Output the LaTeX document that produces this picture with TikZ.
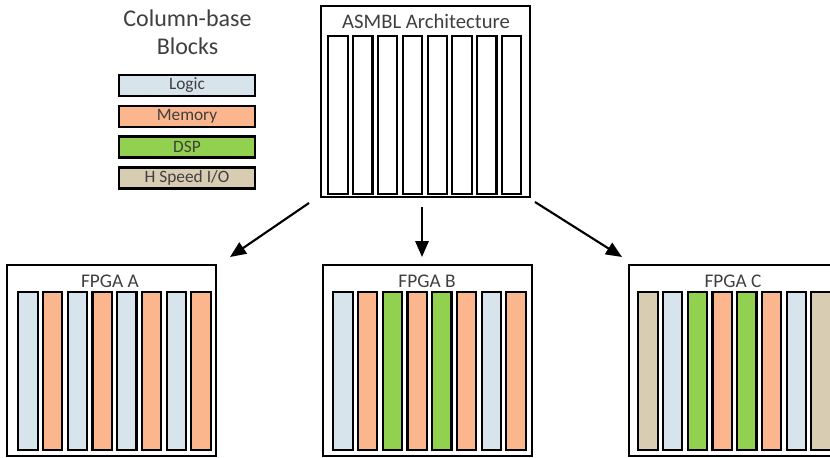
\documentclass[tikz,border=0pt]{standalone}
\usepackage{fontspec}
\setmainfont{Carlito}
\usetikzlibrary{arrows.meta}

\definecolor{logic}{HTML}{D7E4EC}
\definecolor{memory}{HTML}{FBB68D}
\definecolor{dsp}{HTML}{92D050}
\definecolor{hsio}{HTML}{D8CCB3}
\definecolor{txt}{HTML}{3F3F3F}

\begin{document}
\begin{tikzpicture}[x=0.75pt,y=-0.75pt,
  frame/.style={draw=black, line width=1.6pt, rectangle, inner sep=0pt,
    minimum width=156.75pt, minimum height=143.25pt, anchor=north west},
  col/.style={draw=black, line width=1.6pt, rectangle, inner sep=0pt,
    minimum width=14.5pt, minimum height=118.5pt, anchor=north west},
  key/.style={draw=black, line width=1.6pt, rectangle, inner sep=0pt,
    minimum width=102pt, minimum height=15.75pt, text=txt,
    font=\fontsize{13}{15}\selectfont},
  heading/.style={text=txt, anchor=base, inner sep=0pt,
    font=\fontsize{14.5}{17}\selectfont},
  link/.style={line width=1.6pt, -{Triangle[length=12pt,width=10pt]}}
]
\useasboundingbox (0,0) rectangle (830,457);

% legend
\node[text=txt, align=center, anchor=base, inner sep=0pt,
  font=\fontsize{18}{21}\selectfont] (legtitle) at (187.5,54) {Column-base\\Blocks};
\node[key, fill=logic]  (klogic) at (187,85.5) {Logic};
\node[key, fill=memory] (kmem)   at (187,116.5) {Memory};
\node[key, fill=dsp]    (kdsp)   at (187,147) {DSP};
\node[key, fill=hsio]   (khsio)  at (187,178) {H Speed I/O};

% generic column-based architecture
\node[frame] (asmbl) at (320,5) {};
\node[heading, font=\fontsize{15.5}{18}\selectfont] (asmbltitle) at (426,28) {ASMBL Architecture};
\foreach \i in {1,...,8}
  \node[col] (s\i) at ({327.3+(\i-1)*24.8},35) {};

% FPGA A
\node[frame] (fa) at (6,264) {};
\node[heading] (fatitle) at (110,287) {FPGA A};
\foreach \c [count=\i] in {logic,memory,logic,memory,logic,memory,logic,memory}
  \node[col, fill=\c] (a\i) at ({17.3+(\i-1)*24.7},291) {};

% FPGA B
\node[frame] (fb) at (322,264) {};
\node[heading] (fbtitle) at (427,287) {FPGA B};
\foreach \c [count=\i] in {logic,memory,dsp,memory,dsp,memory,logic,memory}
  \node[col, fill=\c] (b\i) at ({332.3+(\i-1)*24.7},291) {};

% FPGA C
\node[frame] (fc) at (628,264) {};
\node[heading] (fctitle) at (733,287) {FPGA C};
\foreach \c [count=\i] in {hsio,logic,dsp,memory,dsp,memory,logic,hsio}
  \node[col, fill=\c] (c\i) at ({637.3+(\i-1)*24.7},291) {};

% connectors
\coordinate (outA) at (309,203);
\coordinate (outB) at (422,207);
\coordinate (outC) at (535,202);
\coordinate (inA) at (230,257);
\coordinate (inB) at (422,257);
\coordinate (inC) at (622,257);
\draw[link] (outA) -- (inA);
\draw[link] (outB) -- (inB);
\draw[link] (outC) -- (inC);
\end{tikzpicture}
\end{document}
